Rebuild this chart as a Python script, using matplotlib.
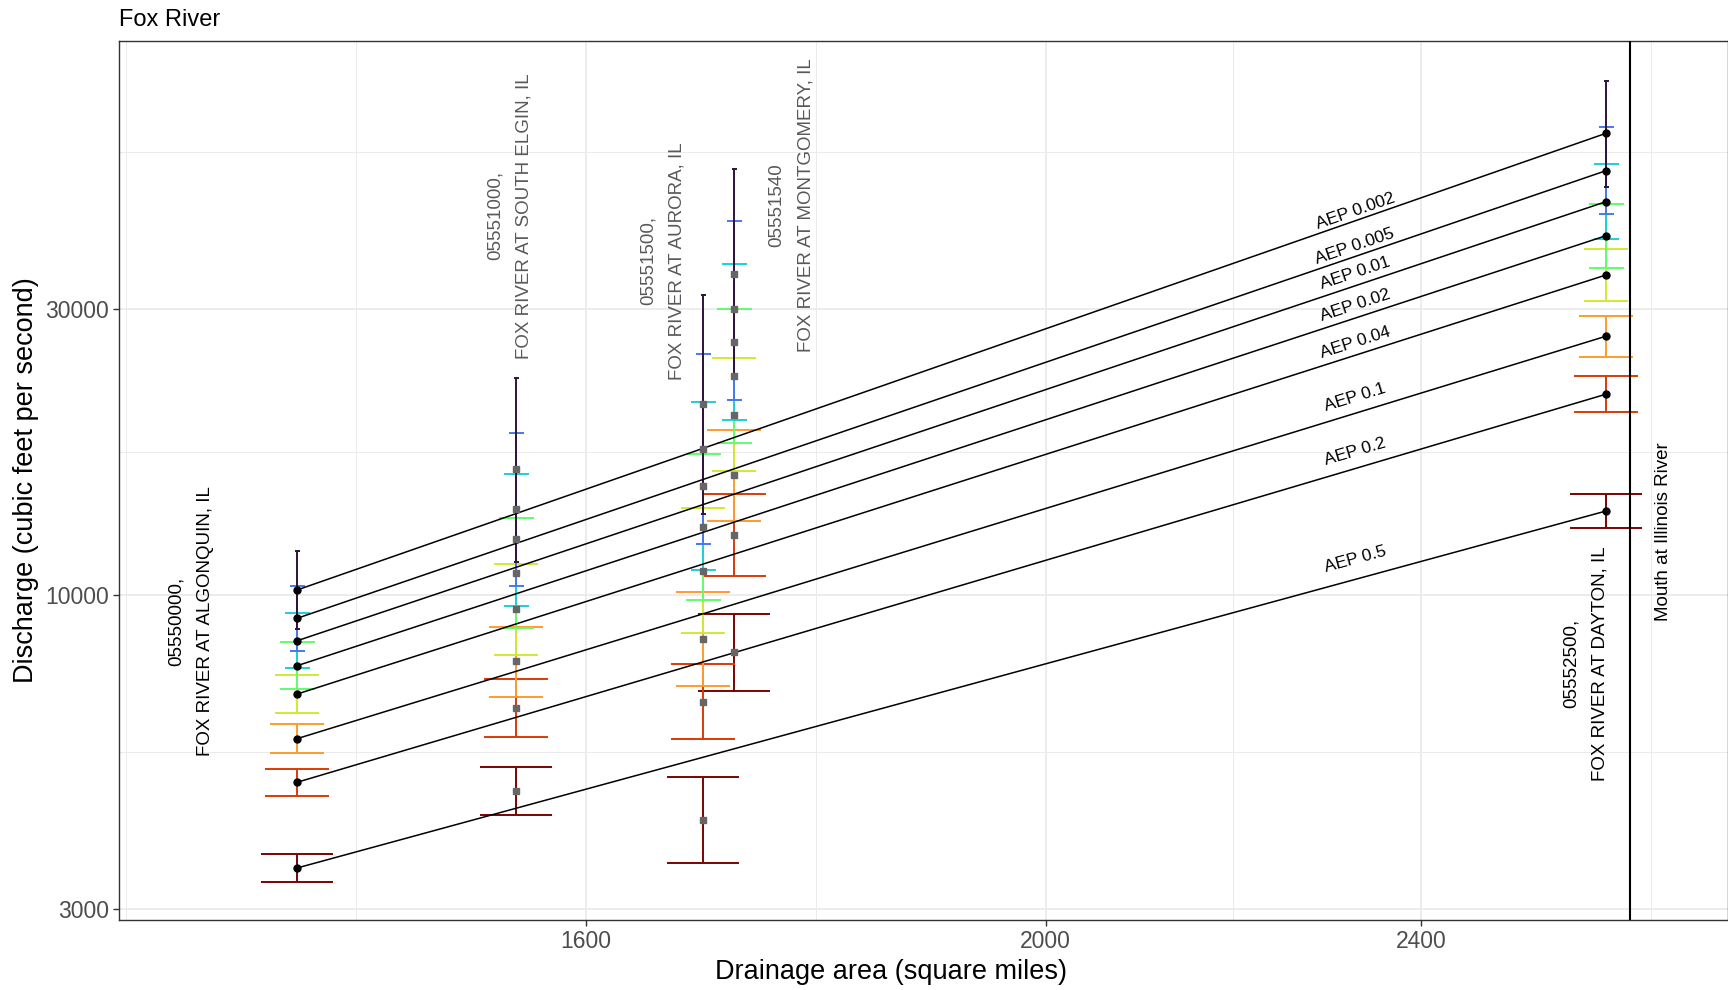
'''Fox River flood-frequency estimates against drainage area'''
import numpy as np
import matplotlib.pyplot as plt

plt.rcParams['font.family'] = ['Liberation Sans', 'DejaVu Sans']

# annual exceedance probabilities, drawn from 0.5 up to 0.002
aep = [0.5, 0.2, 0.1, 0.04, 0.02, 0.01, 0.005, 0.002]
aep_colors = ['#7A0403', '#DB3A07', '#FE9B2D', '#D2E935', '#62FC6B', '#1BD0D5', '#4777EF', '#30123B']

station_labels = [
    '05550000,\nFOX RIVER AT ALGONQUIN, IL',
    '05551000,\nFOX RIVER AT SOUTH ELGIN, IL',
    '05551500,\nFOX RIVER AT AURORA, IL',
    '05551540\nFOX RIVER AT MONTGOMERY, IL',
    '05552500,\nFOX RIVER AT DAYTON, IL',
]
drainage_area = [1391, 1547, 1694, 1719, 2625]
on_regression = [True, False, False, False, True]

# discharge estimate, lower and upper limit (rows: stations, columns: aep)
q_est = [
    [3510, 4876, 5764, 6839, 7624, 8390, 9145, 10194],
    [4717, 6475, 7757, 9478, 10890, 12380, 13890, 16200],
    [4213, 6640, 8450, 10980, 13000, 15190, 17480, 20800],
    [8027, 12590, 15840, 19940, 23160, 26360, 29910, 34240],
    [13800, 21600, 26980, 34120, 39670, 45200, 50900, 58750],
]
q_low = [
    [3330, 4626, 5448, 6361, 6965, 7549, 8076, 8767],
    [4296, 5800, 6763, 7935, 8820, 9598, 10360, 11350],
    [3573, 5757, 7057, 8654, 9820, 11010, 12160, 13660],
    [6913, 10760, 13270, 16090, 17930, 19560, 21130, 23100],
    [12950, 20150, 24940, 30850, 35090, 39120, 43060, 47810],
]
q_high = [
    [3699, 5137, 6106, 7358, 8350, 9344, 10363, 11852],
    [5164, 7237, 8857, 11270, 13450, 15920, 18610, 23010],
    [4970, 7675, 10100, 13940, 17200, 20990, 25170, 31600],
    [9297, 14720, 18830, 24810, 29950, 35540, 42020, 51230],
    [14720, 23130, 29190, 37700, 44750, 52170, 60110, 71900],
]

# where the station names and line labels sit
label_area = [1321, 1542, 1661, 1768, 2599]
label_q = [9050, 42780, 36000, 44630, 7693]
aep_label_area = 2324
aep_label_q = [11450, 17320, 21300, 26320, 30370, 34340, 38020, 43510]

mouth_area = 2656
x_ticks = [1600, 2000, 2400]
y_ticks = [3000, 10000, 30000]

cap_sizes = [25.9, 22.7, 19.1, 15.5, 12.6, 9.0, 5.4, 1.8]


def minor_breaks(b):
    '''ggplot-style minor breaks, midway between majors in log space'''
    lb = np.log10(b)
    d = lb[1] - lb[0]
    ext = np.concatenate([[lb[0] - d], lb, [lb[-1] + d]])
    mids = (ext[:-1] + ext[1:]) / 2
    return 10 ** np.concatenate([[ext[0], ext[-1]], mids])


fig = plt.figure(figsize=(17.28, 9.9), dpi=100)
ax = fig.add_axes([0.06904, 0.07071, 0.93096, 0.88788])
ax.set_xscale('log')
ax.set_yscale('log')

# ticks first, since setting them widens the view
ax.set_xticks(x_ticks)
ax.set_xticklabels([str(t) for t in x_ticks])
ax.set_yticks(y_ticks)
ax.set_yticklabels([str(t) for t in y_ticks])
ax.set_xticks(minor_breaks(x_ticks), minor=True)
ax.set_yticks(minor_breaks(y_ticks), minor=True)
ax.xaxis.set_minor_formatter(plt.NullFormatter())
ax.yaxis.set_minor_formatter(plt.NullFormatter())

# error bars
for j in range(len(aep)):
    for s in range(len(drainage_area)):
        q = q_est[s][j]
        ax.errorbar(drainage_area[s], q,
                    yerr=[[q - q_low[s][j]], [q_high[s][j] - q]],
                    fmt='none', ecolor=aep_colors[j], elinewidth=1.4,
                    capsize=cap_sizes[j], capthick=1.4, zorder=2)

# regression lines between the two end stations
for j in range(len(aep)):
    ax.plot([drainage_area[0], drainage_area[-1]], [q_est[0][j], q_est[-1][j]],
            color='black', lw=1.1, zorder=3)

for s in range(len(drainage_area)):
    qs = q_est[s]
    if on_regression[s]:
        ax.plot([drainage_area[s]] * len(qs), qs, 'o', color='black', ms=5, zorder=4)
    else:
        ax.plot([drainage_area[s]] * len(qs), qs, 's', color='#666666', ms=5, zorder=4)

ax.axvline(mouth_area, color='black', lw=1.5, zorder=3)
ax.set_xlim(1276, 2785)
ax.set_ylim(2875, 83700)

# labels along the lines
for j in range(len(aep)):
    p0 = ax.transData.transform((drainage_area[0], q_est[0][j]))
    p1 = ax.transData.transform((drainage_area[-1], q_est[-1][j]))
    angle = np.degrees(np.arctan2(p1[1] - p0[1], p1[0] - p0[0]))
    ax.text(aep_label_area, aep_label_q[j], 'AEP ' + str(aep[j]), rotation=angle,
            rotation_mode='anchor', ha='center', va='center', size=12.5, zorder=5)

for s in range(len(drainage_area)):
    col = 'black' if on_regression[s] else '#595959'
    ax.text(label_area[s], label_q[s], station_labels[s], rotation=90,
            ha='center', va='center', multialignment='center', linespacing=1.95,
            color=col, size=13.5, zorder=5)

ax.text(2699, 12740, 'Mouth at Illinois River', rotation=90, ha='center',
        va='center', size=13.5, zorder=5)

# axes styling, theme_bw look
ax.tick_params(which='minor', length=0)
ax.tick_params(which='major', length=4.3, width=1, color='#333333',
               labelcolor='#4D4D4D', labelsize=16.5, pad=3)
ax.grid(which='major', color='#EBEBEB', lw=1.3)
ax.grid(which='minor', color='#EBEBEB', lw=0.7)
ax.set_axisbelow(True)
for sp in ax.spines.values():
    sp.set_color('#333333')
    sp.set_linewidth(1.0)

ax.set_xlabel('Drainage area (square miles)', size=19.5)
ax.xaxis.label.set_va('center')
ax.xaxis.set_label_coords((891 - 119.3) / 1608.7, -(972 - 920) / 879)
ax.set_ylabel('Discharge (cubic feet per second)', size=19.5)
ax.yaxis.label.set_va('center')
ax.yaxis.set_label_coords(-(119.3 - 26) / 1608.7, 0.5)
ax.set_title('Fox River', loc='left', size=17, pad=11)

fig.savefig('out.png', dpi=100)
